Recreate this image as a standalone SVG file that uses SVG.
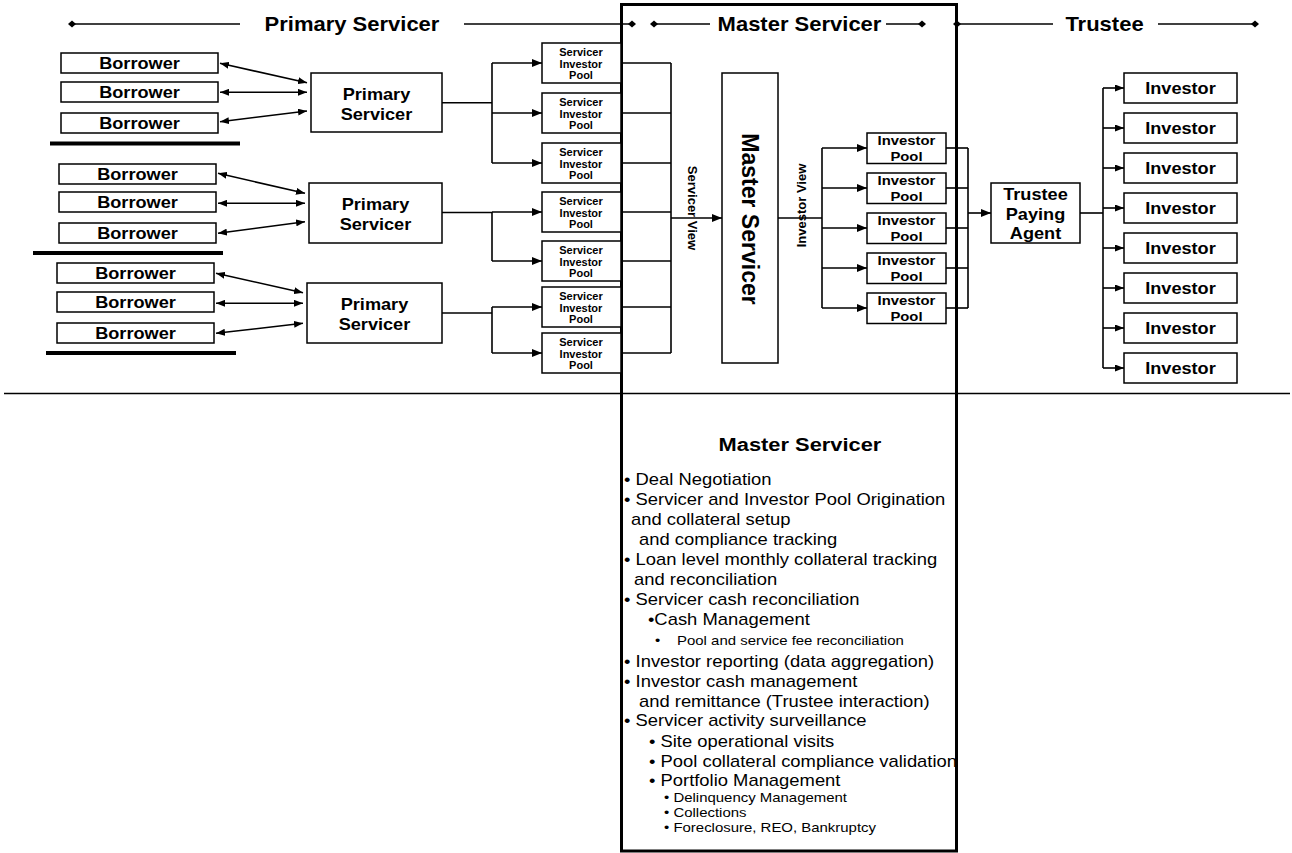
<svg xmlns="http://www.w3.org/2000/svg" xmlns:xlink="http://www.w3.org/1999/xlink" width="1292" height="853" viewBox="0 0 1292 853">
  <style>
    .box { fill: #fff; stroke: #000; stroke-width: 1.5; }
    .ln { fill: none; stroke: #000; stroke-width: 1.6; }
    .thick { fill: none; stroke: #000; stroke-width: 4; }
    .b { font-family: "Liberation Sans", Arial, sans-serif; font-weight: bold; fill: #000; }
    .r { font-family: "Liberation Sans", Arial, sans-serif; fill: #000; }
    .sx { transform: scaleX(1.1); transform-box: fill-box; transform-origin: center; }
    .hd { font-size: 20px; }
    .bor { font-size: 16.5px; }
    .sip { font-size: 10px; }
    .ipl { font-size: 13.5px; }
    .arr { marker-end: url(#ah); }
    .arrs { marker-end: url(#as); }
    .dbl { marker-start: url(#as); marker-end: url(#as); }
  </style>
  <defs>
    <marker id="ah" viewBox="0 0 10 8" refX="10" refY="4" markerWidth="10" markerHeight="8" markerUnits="userSpaceOnUse" orient="auto-start-reverse">
      <path d="M0,0 L10,4 L0,8 z" fill="#000"/>
    </marker>
    <marker id="as" viewBox="0 0 9 7" refX="9" refY="3.5" markerWidth="9" markerHeight="7" markerUnits="userSpaceOnUse" orient="auto-start-reverse">
      <path d="M0,0 L9,3.5 L0,7 z" fill="#000"/>
    </marker>
    <path id="dia" d="M-4,0 L0,-3.5 L4,0 L0,3.5 z" fill="#000"/>
    <clipPath id="msClip"><rect x="623" y="400" width="332" height="450"/></clipPath>
  </defs>

  <rect width="1292" height="853" fill="#fff"/>

  <!-- swim-lane header -->
  <g id="header">
    <g class="ln">
      <path d="M72,24 H240"/>
      <path d="M464,24 H632"/>
      <path d="M654,24 H710"/>
      <path d="M886,24 H922"/>
      <path d="M957,24 H1053"/>
      <path d="M1158,24 H1255"/>
    </g>
    <use xlink:href="#dia" x="72" y="24"/>
    <use xlink:href="#dia" x="632" y="24"/>
    <use xlink:href="#dia" x="654" y="24"/>
    <use xlink:href="#dia" x="922" y="24"/>
    <use xlink:href="#dia" x="957" y="24"/>
    <use xlink:href="#dia" x="1255" y="24"/>
    <text class="b hd sx" x="352" y="31.5" text-anchor="middle">Primary Servicer</text>
    <text class="b hd sx" x="799.5" y="31.5" text-anchor="middle">Master Servicer</text>
    <text class="b hd sx" x="1104.5" y="31.5" text-anchor="middle">Trustee</text>
  </g>

  <!-- master servicer lane frame and divider -->
  <g id="lane-frame">
    <rect x="621.5" y="4.5" width="335" height="846.5" fill="none" stroke="#000" stroke-width="3"/>
    <path d="M4,393.5 H1290" class="ln" stroke-width="1.5"/>
    <path d="M50,143.5 H240" class="thick"/>
    <path d="M33,253 H223" class="thick"/>
    <path d="M46,353 H236" class="thick"/>
  </g>

  <!-- connectors -->
  <g id="connectors">
    <g class="ln dbl">
      <path d="M220,63.3 L307,82.7"/>
      <path d="M220,92.3 L307,92.3"/>
      <path d="M220,121.7 L307,111"/>
      <path d="M218,173.3 L305,193.3"/>
      <path d="M218,203.3 L305,203.3"/>
      <path d="M218,233.3 L305,221.7"/>
      <path d="M216,273.3 L303,292.7"/>
      <path d="M216,303.3 L303,303.3"/>
      <path d="M216,333.3 L303,323.3"/>
    </g>
    <g class="ln" stroke-width="2">
      <path d="M442,102.7 H492"/>
      <path d="M492,63 V163"/>
      <path d="M442,212.5 H492"/>
      <path d="M492,212 V261"/>
      <path d="M442,313 H492"/>
      <path d="M492,307 V353"/>
    </g>
    <g class="ln arr" stroke-width="1.6">
      <path d="M492,63 H542"/>
      <path d="M492,113 H542"/>
      <path d="M492,163 H542"/>
      <path d="M492,212 H542"/>
      <path d="M492,261 H542"/>
      <path d="M492,307 H542"/>
      <path d="M492,353 H542"/>
    </g>
    <g class="ln">
      <path d="M621,63 H671"/>
      <path d="M621,113 H671"/>
      <path d="M621,163 H671"/>
      <path d="M621,212 H671"/>
      <path d="M621,261 H671"/>
      <path d="M621,307 H671"/>
      <path d="M621,353 H671"/>
      <path d="M671,63 V353"/>
    </g>
    <path d="M671,218 H722" class="ln arr" stroke-width="2"/>
    <path d="M778,218 H822" class="ln" stroke-width="2.6"/>
    <path d="M822,148 V308" class="ln"/>
    <g class="ln arr">
      <path d="M822,148 H867"/>
      <path d="M822,188 H867"/>
      <path d="M822,228 H867"/>
      <path d="M822,268 H867"/>
      <path d="M822,308 H867"/>
    </g>
    <g class="ln">
      <path d="M946,148 H968"/>
      <path d="M946,188 H968"/>
      <path d="M946,228 H968"/>
      <path d="M946,268 H968"/>
      <path d="M946,308 H968"/>
      <path d="M968,148 V308"/>
    </g>
    <path d="M968,213 H991" class="ln arr" stroke-width="2"/>
    <path d="M1080,213 H1103" class="ln" stroke-width="2.4"/>
    <path d="M1103,88 V368" class="ln"/>
    <g class="ln arrs">
      <path d="M1103,88 H1124"/>
      <path d="M1103,128 H1124"/>
      <path d="M1103,168 H1124"/>
      <path d="M1103,208 H1124"/>
      <path d="M1103,248 H1124"/>
      <path d="M1103,288 H1124"/>
      <path d="M1103,328 H1124"/>
      <path d="M1103,368 H1124"/>
    </g>
    <g transform="translate(693,208) rotate(90)">
      <text class="b" font-size="13" x="0" y="4.7" text-anchor="middle">Servicer View</text>
    </g>
    <g transform="translate(801,205.5) rotate(-90)">
      <text class="b" font-size="13" x="0" y="4.7" text-anchor="middle">Investor View</text>
    </g>
  </g>

  <!-- borrowers -->
  <g id="borrower-1"><rect class="box" x="61" y="53" width="157" height="20"/><text class="b bor sx" x="139.5" y="69.3" text-anchor="middle">Borrower</text></g>
  <g id="borrower-2"><rect class="box" x="61" y="82" width="157" height="20"/><text class="b bor sx" x="139.5" y="98.3" text-anchor="middle">Borrower</text></g>
  <g id="borrower-3"><rect class="box" x="61" y="113" width="157" height="20"/><text class="b bor sx" x="139.5" y="129.3" text-anchor="middle">Borrower</text></g>
  <g id="borrower-4"><rect class="box" x="59" y="164" width="157" height="20"/><text class="b bor sx" x="137.5" y="180.3" text-anchor="middle">Borrower</text></g>
  <g id="borrower-5"><rect class="box" x="59" y="192" width="157" height="20"/><text class="b bor sx" x="137.5" y="208.3" text-anchor="middle">Borrower</text></g>
  <g id="borrower-6"><rect class="box" x="59" y="223" width="157" height="20"/><text class="b bor sx" x="137.5" y="239.3" text-anchor="middle">Borrower</text></g>
  <g id="borrower-7"><rect class="box" x="57" y="263" width="157" height="20"/><text class="b bor sx" x="135.5" y="279.3" text-anchor="middle">Borrower</text></g>
  <g id="borrower-8"><rect class="box" x="57" y="292" width="157" height="20"/><text class="b bor sx" x="135.5" y="308.3" text-anchor="middle">Borrower</text></g>
  <g id="borrower-9"><rect class="box" x="57" y="323" width="157" height="20"/><text class="b bor sx" x="135.5" y="339.3" text-anchor="middle">Borrower</text></g>

  <!-- primary servicers -->
  <g id="primary-servicer-1"><rect class="box" x="311" y="73" width="131" height="59"/><text class="b bor sx" x="376.5" y="100" text-anchor="middle">Primary</text><text class="b bor sx" x="376.5" y="120" text-anchor="middle">Servicer</text></g>
  <g id="primary-servicer-2"><rect class="box" x="309" y="183" width="133" height="60"/><text class="b bor sx" x="375.5" y="210" text-anchor="middle">Primary</text><text class="b bor sx" x="375.5" y="230" text-anchor="middle">Servicer</text></g>
  <g id="primary-servicer-3"><rect class="box" x="307" y="283" width="135" height="60"/><text class="b bor sx" x="374.5" y="310" text-anchor="middle">Primary</text><text class="b bor sx" x="374.5" y="330" text-anchor="middle">Servicer</text></g>

  <!-- servicer investor pools -->
  <g id="sip-1"><rect class="box" x="542" y="43" width="79" height="40"/><text class="b sip sx" x="581" y="55.7" text-anchor="middle">Servicer</text><text class="b sip sx" x="581" y="67.7" text-anchor="middle">Investor</text><text class="b sip sx" x="581" y="79.2" text-anchor="middle">Pool</text></g>
  <g id="sip-2"><rect class="box" x="542" y="93" width="79" height="40"/><text class="b sip sx" x="581" y="105.7" text-anchor="middle">Servicer</text><text class="b sip sx" x="581" y="117.7" text-anchor="middle">Investor</text><text class="b sip sx" x="581" y="129.2" text-anchor="middle">Pool</text></g>
  <g id="sip-3"><rect class="box" x="542" y="143" width="79" height="40"/><text class="b sip sx" x="581" y="155.7" text-anchor="middle">Servicer</text><text class="b sip sx" x="581" y="167.7" text-anchor="middle">Investor</text><text class="b sip sx" x="581" y="179.2" text-anchor="middle">Pool</text></g>
  <g id="sip-4"><rect class="box" x="542" y="192" width="79" height="40"/><text class="b sip sx" x="581" y="204.7" text-anchor="middle">Servicer</text><text class="b sip sx" x="581" y="216.7" text-anchor="middle">Investor</text><text class="b sip sx" x="581" y="228.2" text-anchor="middle">Pool</text></g>
  <g id="sip-5"><rect class="box" x="542" y="241" width="79" height="40"/><text class="b sip sx" x="581" y="253.7" text-anchor="middle">Servicer</text><text class="b sip sx" x="581" y="265.7" text-anchor="middle">Investor</text><text class="b sip sx" x="581" y="277.2" text-anchor="middle">Pool</text></g>
  <g id="sip-6"><rect class="box" x="542" y="287" width="79" height="40"/><text class="b sip sx" x="581" y="299.7" text-anchor="middle">Servicer</text><text class="b sip sx" x="581" y="311.7" text-anchor="middle">Investor</text><text class="b sip sx" x="581" y="323.2" text-anchor="middle">Pool</text></g>
  <g id="sip-7"><rect class="box" x="542" y="333" width="79" height="40"/><text class="b sip sx" x="581" y="345.7" text-anchor="middle">Servicer</text><text class="b sip sx" x="581" y="357.7" text-anchor="middle">Investor</text><text class="b sip sx" x="581" y="369.2" text-anchor="middle">Pool</text></g>

  <!-- master servicer -->
  <g id="master-servicer">
    <rect class="box" x="722" y="73" width="56" height="290"/>
    <g transform="translate(750,219) rotate(90)">
      <text class="b" font-size="23" x="0" y="8" text-anchor="middle">Master Servicer</text>
    </g>
  </g>

  <!-- investor pools -->
  <g id="investor-pool-1"><rect class="box" x="867" y="133" width="79" height="30.5"/><text class="b ipl sx" x="906.5" y="145.5" text-anchor="middle">Investor</text><text class="b ipl sx" x="906.5" y="161" text-anchor="middle">Pool</text></g>
  <g id="investor-pool-2"><rect class="box" x="867" y="173" width="79" height="30.5"/><text class="b ipl sx" x="906.5" y="185.5" text-anchor="middle">Investor</text><text class="b ipl sx" x="906.5" y="201" text-anchor="middle">Pool</text></g>
  <g id="investor-pool-3"><rect class="box" x="867" y="213" width="79" height="30.5"/><text class="b ipl sx" x="906.5" y="225.5" text-anchor="middle">Investor</text><text class="b ipl sx" x="906.5" y="241" text-anchor="middle">Pool</text></g>
  <g id="investor-pool-4"><rect class="box" x="867" y="253" width="79" height="30.5"/><text class="b ipl sx" x="906.5" y="265.5" text-anchor="middle">Investor</text><text class="b ipl sx" x="906.5" y="281" text-anchor="middle">Pool</text></g>
  <g id="investor-pool-5"><rect class="box" x="867" y="293" width="79" height="30.5"/><text class="b ipl sx" x="906.5" y="305.5" text-anchor="middle">Investor</text><text class="b ipl sx" x="906.5" y="321" text-anchor="middle">Pool</text></g>

  <!-- trustee -->
  <g id="trustee-paying-agent">
    <rect class="box" x="991" y="183" width="89" height="60"/>
    <text class="b bor sx" x="1035.5" y="200" text-anchor="middle">Trustee</text>
    <text class="b bor sx" x="1035.5" y="220" text-anchor="middle">Paying</text>
    <text class="b bor sx" x="1035.5" y="239.5" text-anchor="middle">Agent</text>
  </g>

  <!-- investors -->
  <g id="investor-1"><rect class="box" x="1124" y="73" width="113" height="30"/><text class="b bor sx" x="1180.5" y="94" text-anchor="middle">Investor</text></g>
  <g id="investor-2"><rect class="box" x="1124" y="113" width="113" height="30"/><text class="b bor sx" x="1180.5" y="134" text-anchor="middle">Investor</text></g>
  <g id="investor-3"><rect class="box" x="1124" y="153" width="113" height="30"/><text class="b bor sx" x="1180.5" y="174" text-anchor="middle">Investor</text></g>
  <g id="investor-4"><rect class="box" x="1124" y="193" width="113" height="30"/><text class="b bor sx" x="1180.5" y="214" text-anchor="middle">Investor</text></g>
  <g id="investor-5"><rect class="box" x="1124" y="233" width="113" height="30"/><text class="b bor sx" x="1180.5" y="254" text-anchor="middle">Investor</text></g>
  <g id="investor-6"><rect class="box" x="1124" y="273" width="113" height="30"/><text class="b bor sx" x="1180.5" y="294" text-anchor="middle">Investor</text></g>
  <g id="investor-7"><rect class="box" x="1124" y="313" width="113" height="30"/><text class="b bor sx" x="1180.5" y="334" text-anchor="middle">Investor</text></g>
  <g id="investor-8"><rect class="box" x="1124" y="353" width="113" height="30"/><text class="b bor sx" x="1180.5" y="374" text-anchor="middle">Investor</text></g>

  <!-- master servicer responsibilities -->
  <g id="master-servicer-duties" clip-path="url(#msClip)">
    <g transform="matrix(1.15 0 0 1 620 0)">
      <text class="b" font-size="19" x="156.5" y="451" text-anchor="middle">Master Servicer</text>
      <g class="r" font-size="16">
        <text x="3.5" y="485">• Deal Negotiation</text>
        <text x="3.5" y="505">• Servicer and Investor Pool Origination</text>
        <text x="9.6" y="525.5">and collateral setup</text>
        <text x="16.5" y="545.5">and compliance tracking</text>
        <text x="3.5" y="565.5">• Loan level monthly collateral tracking</text>
        <text x="12.2" y="585.5">and reconciliation</text>
        <text x="3.5" y="605.5">• Servicer cash reconciliation</text>
        <text x="24.3" y="625">•Cash Management</text>
        <text x="3.5" y="666.7">• Investor reporting (data aggregation)</text>
        <text x="3.5" y="686.7">• Investor cash management</text>
        <text x="16.5" y="706.7">and remittance (Trustee interaction)</text>
        <text x="3.5" y="726.2">• Servicer activity surveillance</text>
        <text x="25.2" y="746.7">• Site operational visits</text>
        <text x="25.2" y="766.7">• Pool collateral compliance validation</text>
        <text x="25.2" y="785.7">• Portfolio Management</text>
      </g>
      <g class="r" font-size="13">
        <text y="645"><tspan x="30.4">•</tspan><tspan x="49.6">Pool and service fee reconciliation</tspan></text>
        <text x="38.3" y="801.7">• Delinquency Management</text>
        <text x="38.3" y="816.7">• Collections</text>
        <text x="38.3" y="831.7">• Foreclosure, REO, Bankruptcy</text>
      </g>
    </g>
  </g>
</svg>
